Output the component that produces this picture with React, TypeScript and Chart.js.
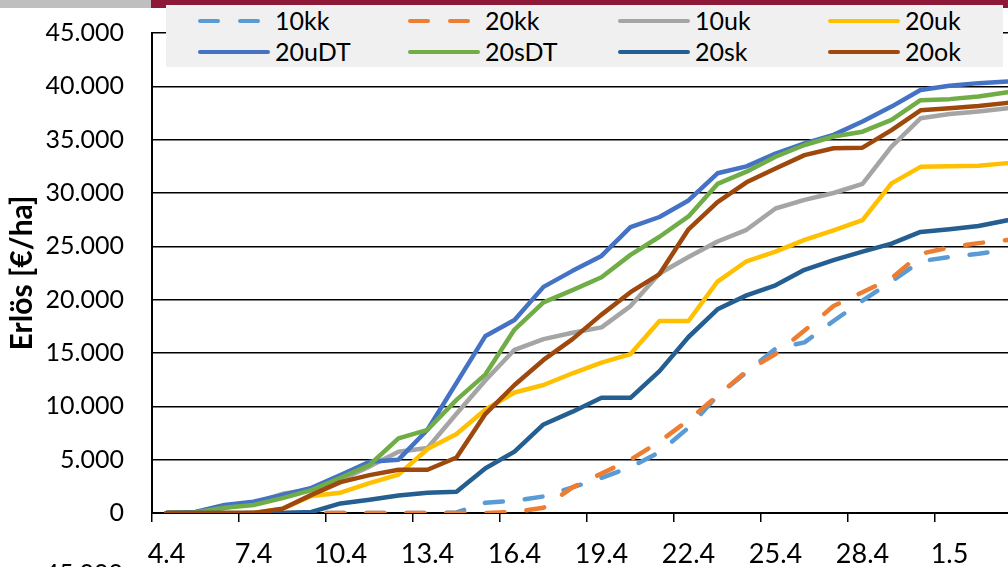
import React, { useEffect, useRef } from 'react';
import { Chart, registerables } from 'chart.js';

Chart.register(...registerables);

const dates = ['4.4','5.4','6.4','7.4','8.4','9.4','10.4','11.4','12.4','13.4','14.4','15.4','16.4','17.4','18.4','19.4','20.4','21.4','22.4','23.4','24.4','25.4','26.4','27.4','28.4','29.4','30.4','1.5','2.5','3.5'];

const kk10 = [0,0,0,0,0,0,0,0,0,0,50,970,1150,1550,2400,3300,4300,5700,8000,11000,13200,15400,16000,18000,19900,21700,23600,24000,24300,24700];
const kk20 = [0,0,0,0,0,0,0,0,0,0,0,0,100,500,2400,3700,5000,6700,8700,11000,13300,14900,17100,19400,20700,22000,24300,24900,25300,25600];
const uk10 = [0,100,500,900,1800,2200,3100,4350,5750,6100,9300,12450,15300,16300,16900,17400,19400,22450,24000,25450,26550,28550,29350,30000,30850,34350,37000,37400,37650,37950];
const uk20 = [0,0,0,0,400,1600,1900,2800,3600,6000,7400,9700,11300,12000,13100,14100,14900,18000,18000,21700,23600,24500,25600,26500,27450,30900,32450,32500,32550,32800];
const uDT20 = [0,100,750,1050,1700,2350,3550,4800,5000,7800,12200,16600,18100,21200,22700,24100,26800,27750,29300,31850,32500,33700,34650,35450,36700,38100,39650,40050,40300,40450];
const sDT20 = [0,50,500,750,1400,2150,3300,4500,7000,7800,10600,13000,17200,19750,20900,22100,24200,25900,27800,30850,32000,33400,34500,35300,35750,36850,38700,38800,39050,39450];
const sk20 = [0,0,0,0,0,100,900,1250,1650,1900,2000,4200,5750,8300,9500,10800,10800,13300,16500,19100,20400,21350,22800,23700,24500,25250,26350,26600,26900,27450];
const ok20 = [0,0,0,0,400,1700,2900,3550,4050,4050,5200,9300,12000,14350,16300,18600,20700,22400,26600,29150,31000,32300,33550,34200,34250,35900,37750,37950,38150,38450];

const seriesNames = ['10kk','20kk','10uk','20uk','20uDT','20sDT','20sk','20ok'];
const seriesValues = [kk10, kk20, uk10, uk20, uDT20, sDT20, sk20, ok20];
const seriesColors = ['#5B9BD5','#ED7D31','#A5A5A5','#FFC000','#4472C4','#70AD47','#255E91','#9E480E'];
const seriesDashed = [true, true, false, false, false, false, false, false];

const yTitle = 'Erlös [€/ha]';
const FONT = 'Lato, "Open Sans", sans-serif';

function fmt(v: number): string {
  if (v === 0) return '0';
  const s = String(Math.round(v));
  return s.replace(/\B(?=(\d{3})+(?!\d))/g, '.');
}

export default function App() {
  const ref = useRef<HTMLCanvasElement | null>(null);

  useEffect(() => {
    const canvas = ref.current;
    if (!canvas) return;
    const n = seriesNames.length;
    const chart = new Chart(canvas, {
      type: 'line',
      data: {
        labels: dates,
        datasets: seriesNames.map((name, i) => ({
          label: name,
          data: seriesValues[i],
          borderColor: seriesColors[i],
          backgroundColor: seriesColors[i],
          borderWidth: 4.5,
          borderDash: seriesDashed[i] ? [18, 22] : [],
          borderCapStyle: 'round' as const,
          borderJoinStyle: 'round' as const,
          pointRadius: 0,
          tension: 0,
          fill: false,
          order: n - i,
        })),
      },
      options: {
        animation: false,
        responsive: false,
        maintainAspectRatio: false,
        devicePixelRatio: 1,
        layout: { padding: { top: 33, left: 0, right: 18, bottom: 0 } },
        plugins: { legend: { display: false }, tooltip: { enabled: false } },
        scales: {
          x: {
            type: 'category',
            offset: true,
            grid: {
              offset: true,
              drawOnChartArea: false,
              drawTicks: true,
              tickLength: 9,
              lineWidth: 1.5,
              color: (ctx: any) => (ctx.index % 3 === 0 ? '#000' : 'rgba(0,0,0,0)'),
            },
            border: { color: '#000', width: 2 },
            ticks: {
              autoSkip: false,
              maxRotation: 0,
              minRotation: 0,
              padding: 16,
              color: '#000',
              font: { family: FONT, size: 27 },
              callback: (_v: any, i: number) => (i % 3 === 0 ? dates[i] : ''),
            },
            afterFit: (s: any) => { s.height = 54; s.paddingLeft = 0; s.paddingRight = 0; },
          },
          y: {
            min: 0,
            max: 45000,
            ticks: {
              stepSize: 5000,
              padding: 28,
              color: '#000',
              font: { family: FONT, size: 25 },
              callback: (v: any) => fmt(Number(v)),
            },
            grid: { color: '#000', lineWidth: 1.5, drawTicks: false },
            border: { color: '#000', width: 2 },
            title: {
              display: true,
              text: yTitle,
              color: '#000',
              font: { family: FONT, size: 30, weight: 'bold' },
              padding: { top: 4, bottom: 0 },
            },
            afterFit: (s: any) => { s.width = 152; s.paddingTop = 0; s.paddingBottom = 0; },
          },
        },
      },
    });
    return () => chart.destroy();
  }, []);

  return (
    <div style={{ position: 'fixed', left: 0, top: 0, width: 1008, height: 567, overflow: 'hidden', background: '#fff', fontFamily: FONT }}>
      <canvas ref={ref} width={1040} height={567} style={{ position: 'absolute', left: 0, top: 0, width: 1040, height: 567 }} />
      <div style={{ position: 'absolute', left: 0, top: 0, width: 151, height: 8, background: '#BFBFBF' }} />
      <div style={{ position: 'absolute', left: 151, top: 0, width: 857, height: 8, background: '#8E1838' }} />
      <div style={{ position: 'absolute', left: 166, top: 5, width: 837, height: 62, background: '#F0F0F0' }}>
        {seriesNames.map((name, i) => {
          const col = i % 4;
          const row = Math.floor(i / 4);
          return (
            <div key={name} style={{ position: 'absolute', left: 32 + col * 210, top: row === 0 ? 0 : 31, height: 31, display: 'flex', alignItems: 'center' }}>
              <svg width={72} height={8} style={{ display: 'block' }}>
                <line x1={2} y1={4} x2={70} y2={4} stroke={seriesColors[i]} strokeWidth={4} strokeLinecap="round" strokeDasharray={seriesDashed[i] ? '18 22' : undefined} />
              </svg>
              <span style={{ marginLeft: 5, fontSize: 25, lineHeight: '31px', color: '#000', whiteSpace: 'nowrap' }}>{name}</span>
            </div>
          );
        })}
      </div>
      <div style={{ position: 'absolute', left: 0, top: 557, width: 123, textAlign: 'right', fontSize: 25, lineHeight: '30px', color: '#000' }}>45.000</div>
    </div>
  );
}
